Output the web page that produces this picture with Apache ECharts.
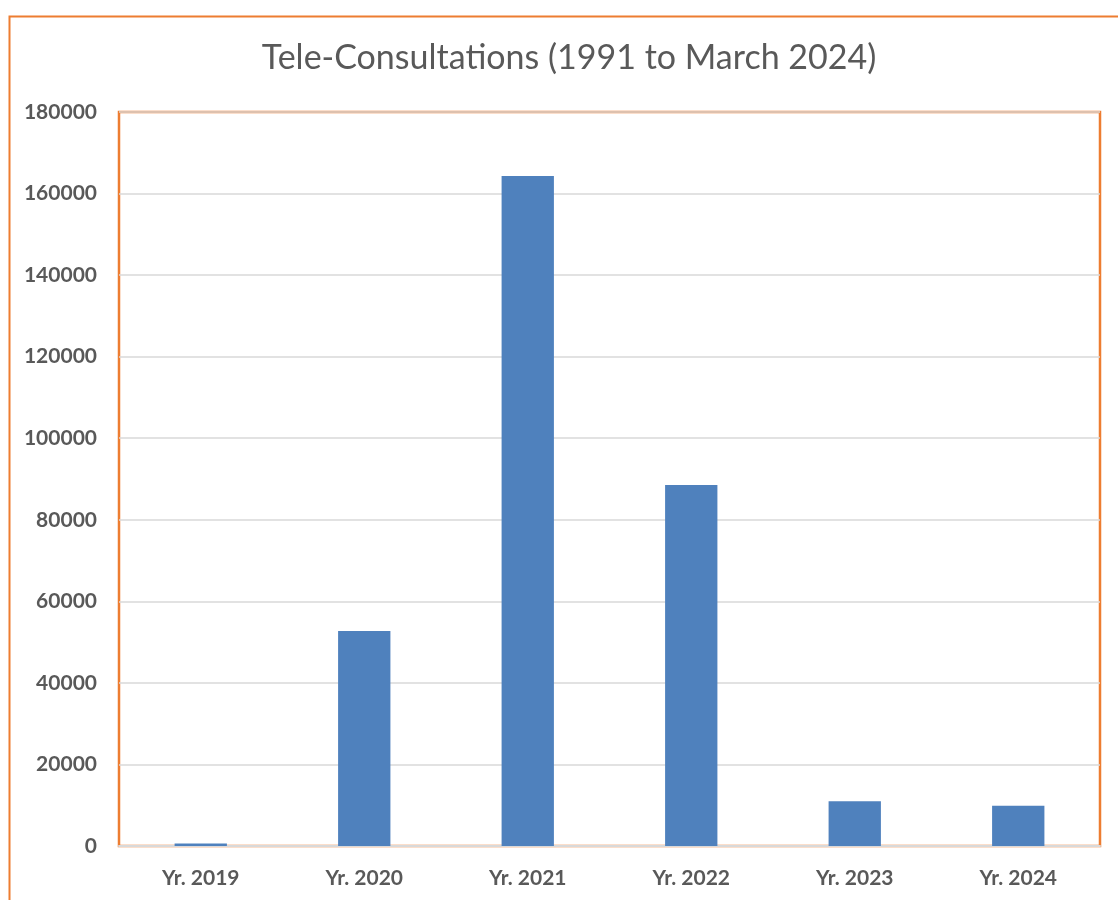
<!DOCTYPE html>
<html lang="en">
  <head>
    <meta charset="UTF-8" />
    <title>Tele-Consultations</title>
    <script src="https://cdn.jsdelivr.net/npm/echarts@6/dist/echarts.min.js"></script>
  </head>
  <style>
    body,
    html {
      margin: 0;
      height: 100%;
      background: #fff;
    }
  </style>
  <body>
    <div id="chart" style="width:1118px;height:900px"></div>
  </body>
  <script>
    // values
    var years = ["Yr. 2019", "Yr. 2020", "Yr. 2021", "Yr. 2022", "Yr. 2023", "Yr. 2024"];
    var consultations = [600, 52700, 164300, 88500, 11000, 9900];

    var orange = "#ED7D31";
    var textGrey = "#595959";

    var chart = echarts.init(document.querySelector("#chart"));
    var option = {
      animation: false,
      title: {
        text: "Tele-Consultations (1991 to March 2024)",
        left: 564,
        textAlign: "center",
        top: 36,
        textStyle: {
          fontFamily: "Lato",
          fontWeight: "normal",
          fontSize: 34,
          color: textGrey
        }
      },
      graphic: [
        {
          type: "rect",
          left: 7,
          top: 14,
          shape: { width: 1200, height: 1000 },
          style: { fill: "none", stroke: orange, lineWidth: 2 }
        }
      ],
      grid: {
        left: 119,
        right: 18,
        top: 112,
        bottom: 54,
        show: true,
        borderColor: orange,
        borderWidth: 2.5
      },
      xAxis: {
        type: "category",
        data: years,
        axisLine: { lineStyle: { color: "#D9D9D9", width: 2 } },
        axisTick: { show: false },
        axisLabel: {
          margin: 22,
          fontFamily: "Lato",
          fontWeight: "bold",
          fontSize: 21,
          color: textGrey
        }
      },
      yAxis: {
        type: "value",
        min: 0,
        max: 180000,
        interval: 20000,
        axisLine: { show: false },
        axisTick: { show: false },
        splitLine: { lineStyle: { color: "#D9D9D9", width: 1.5 } },
        axisLabel: {
          margin: 22,
          fontFamily: "Lato",
          fontWeight: "bold",
          fontSize: 21,
          color: textGrey,
          formatter: function (v) {
            return String(v);
          }
        }
      },
      series: [
        {
          type: "bar",
          data: consultations,
          barWidth: "32%",
          itemStyle: { color: "#4F81BD" }
        }
      ]
    };
    chart.setOption(option);
  </script>
</html>
